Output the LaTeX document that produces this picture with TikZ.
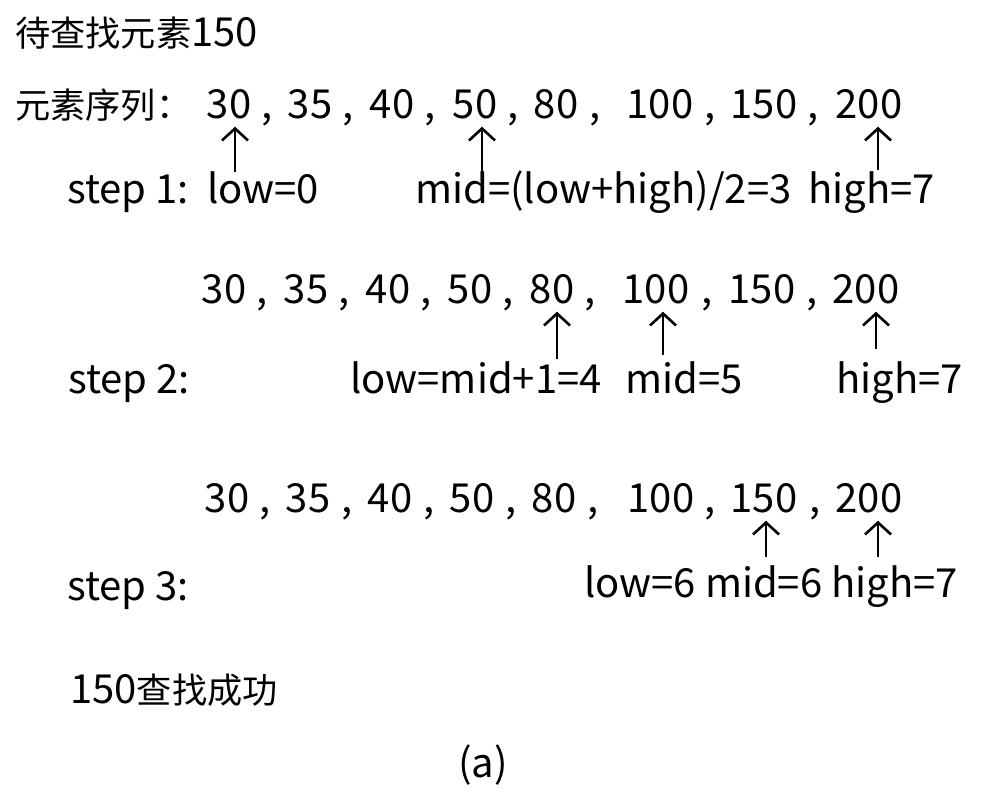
\documentclass[tikz,border=0pt]{standalone}
\usepackage{fontspec}
\setmainfont{Noto Sans CJK SC}
\newfontfamily\cjk[Scale=0.88]{Noto Sans CJK SC}
\usetikzlibrary{arrows.meta}

\begin{document}
\begin{tikzpicture}[x=1pt,y=-1pt]
\tikzset{every node/.style={inner sep=0pt,font=\fontsize{40}{44}\selectfont},
  num/.style={anchor=base,inner sep=8pt},
  txt/.style={anchor=base west},
  ptr/.style={-{Straight Barb[length=12pt,width=26pt]},line width=2.6pt}}
\useasboundingbox (0,0) rectangle (990,792);
\node[txt] (title) at (15,47) {{\cjk 待查找元素}150};
\node[txt] (seq) at (15,118) {\cjk 元素序列：};
% the three rows of numbers
\foreach \v/\x [count=\i] in {30/229,35/310,40/392,50/475,80/556,100/660,150/764,200/869}
  \node[num] (r1n\i) at (\x,118) {\v};
\foreach \x [count=\i] in {267,348,430,513,595,710,813}
  \node[num] (r1c\i) at (\x,118) {,};
\foreach \v/\x [count=\i] in {30/224,35/306,40/388,50/470,80/552,100/656,150/762,200/866}
  \node[num] (r2n\i) at (\x,303) {\v};
\foreach \x [count=\i] in {262,344,426,508,590,707,812}
  \node[num] (r2c\i) at (\x,303) {,};
\foreach \v/\x [count=\i] in {30/227,35/308,40/390,50/472,80/554,100/661,150/764,200/869}
  \node[num] (r3n\i) at (\x,512) {\v};
\foreach \x [count=\i] in {265,347,429,511,593,710,815}
  \node[num] (r3c\i) at (\x,512) {,};
% step 1
\node[txt] (s1) at (67,203) {step 1:};
\node[txt] (lo1) at (207,203) {low=0};
\node[txt] (mi1) at (415,203) {mid=(low+high)/2=3};
\node[txt] (hi1) at (808,203) {high=7};
\coordinate (t11) at (235,172);
\coordinate (t12) at (482,172);
\coordinate (t13) at (878,170);
\draw[ptr] (t11) -- (t11 |- r1n1.south);
\draw[ptr] (t12) -- (t12 |- r1n4.south);
\draw[ptr] (t13) -- (t13 |- r1n8.south);
% step 2
\node[txt] (s2) at (68,393) {step 2:};
\node[txt] (lo2) at (350,393) {low=mid+1=4};
\node[txt] (mi2) at (625,393) {mid=5};
\node[txt] (hi2) at (836,393) {high=7};
\coordinate (t21) at (557,359);
\coordinate (t22) at (663,355);
\coordinate (t23) at (876,349);
\draw[ptr] (t21) -- (t21 |- r2n5.south);
\draw[ptr] (t22) -- (t22 |- r2n6.south);
\draw[ptr] (t23) -- (t23 |- r2n8.south);
% step 3
\node[txt] (s3) at (67,600) {step 3:};
\node[txt] (lmh3) at (584,597) {low=6 mid=6 high=7};
\coordinate (t31) at (766,557);
\coordinate (t32) at (878,557);
\draw[ptr] (t31) -- (t31 |- r3n7.south);
\draw[ptr] (t32) -- (t32 |- r3n8.south);
\node[txt] (done) at (70,703) {150{\cjk 查找成功}};
\node[anchor=base] (cap) at (483,777) {(a)};
\end{tikzpicture}
\end{document}
